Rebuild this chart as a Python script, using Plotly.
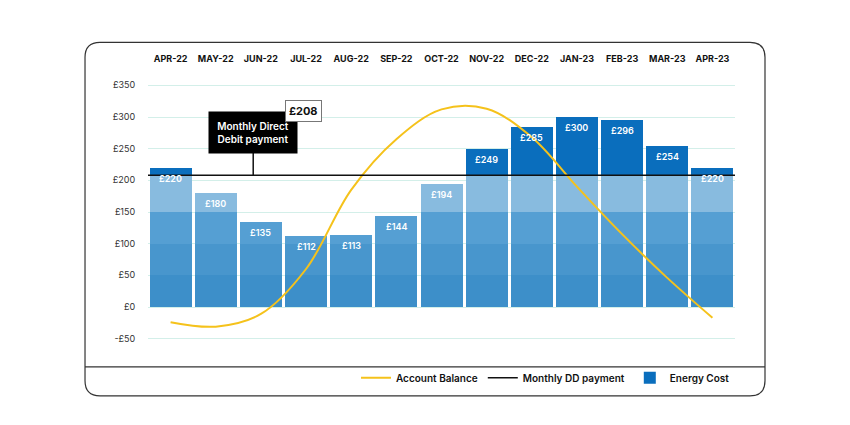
import numpy as np
import plotly.graph_objects as go

months = ["APR-22", "MAY-22", "JUN-22", "JUL-22", "AUG-22", "SEP-22", "OCT-22",
          "NOV-22", "DEC-22", "JAN-23", "FEB-23", "MAR-23", "APR-23"]
energy_cost = [220, 180, 135, 112, 113, 144, 194, 249, 285, 300, 296, 254, 220]
account_balance = [-24, -31, -11, 60, 185, 265, 312, 313, 268, 190, 115, 46, -17]
dd_payment = 208
y_ticks = [-50, 0, 50, 100, 150, 200, 250, 300, 350]

x = np.arange(len(months))
cost = np.array(energy_cost, dtype=float)

# split each bar into bands: 0-50, 50-100, 100-150, 150-DD, above DD
bands = [
    (np.clip(cost, 0, 50), "#3d8fc9"),
    (np.clip(cost - 50, 0, 50), "#4896cd"),
    (np.clip(cost - 100, 0, 50), "#559fd3"),
    (np.clip(np.minimum(cost, dd_payment) - 150, 0, None), "#88bbdf"),
    (np.clip(cost - dd_payment, 0, None), "#0a6ebd"),
]

fig = go.Figure()
for i, (seg, col) in enumerate(bands):
    last = i == len(bands) - 1
    fig.add_trace(go.Bar(
        x=x, y=seg, marker=dict(color=col, line=dict(width=0)),
        name="Energy Cost", showlegend=last, legendrank=3,
        hoverinfo="skip",
    ))

fig.add_trace(go.Scatter(
    x=x, y=account_balance, mode="lines", name="Account Balance",
    line=dict(color="#f5c21b", width=2, shape="spline", smoothing=1.0),
    legendrank=1,
))

fig.add_hline(y=dd_payment, line=dict(color="#111111", width=1.5),
              showlegend=True, name="Monthly DD payment", legendrank=2)

# value labels inside the top of each bar
for xi, v in zip(x, energy_cost):
    fig.add_annotation(x=xi, y=v, text="£%d" % v, showarrow=False,
                       yanchor="top", yshift=-3,
                       font=dict(color="white", size=9, weight=600))

# direct debit callout
fig.add_shape(type="line", x0=1.83, x1=1.83, y0=dd_payment, y1=243,
              line=dict(color="#111111", width=1.5))
fig.add_annotation(x=1.83, y=276, text="Monthly Direct<br>Debit payment",
                   showarrow=False, bgcolor="#000000", width=86, height=39,
                   font=dict(color="white", size=10, weight=600), align="center")
fig.add_annotation(x=2.94, y=309, text="£%d" % dd_payment, showarrow=False,
                   bgcolor="white", bordercolor="#777777", borderwidth=1,
                   borderpad=3, font=dict(color="#111111", size=11, weight=700))

# outer rounded frame and legend divider (paper coords)
x0, x1, y0, y1 = -0.1073, 1.0511, -0.191, 1.138
rx, ry = 0.0255, 0.0565
frame = ("M {a},{t} L {b},{t} Q {x1},{y1} {x1},{c} L {x1},{d} Q {x1},{y0} {b},{y0} "
         "L {a},{y0} Q {x0},{y0} {x0},{d} L {x0},{c} Q {x0},{y1} {a},{y1} Z").format(
    a=x0 + rx, b=x1 - rx, c=y1 - ry, d=y0 + ry, t=y1, x0=x0, x1=x1, y0=y0, y1=y1)
fig.add_shape(type="path", path=frame, xref="paper", yref="paper",
              line=dict(color="#333333", width=1.2), layer="above")
fig.add_shape(type="line", xref="paper", yref="paper", x0=x0, x1=x1,
              y0=-0.082, y1=-0.082, line=dict(color="#333333", width=1.2))

# page body has an 8px margin, so the figure is 8px smaller than the window
fig.update_layout(
    width=842, height=417,
    barmode="stack", bargap=0.07,
    plot_bgcolor="white", paper_bgcolor="white",
    margin=dict(l=140, r=115, t=71, b=80),
    font=dict(family="Inter, Roboto, sans-serif", color="#222222"),
    legend=dict(orientation="h", x=1.0, xanchor="right", y=-0.123,
                yanchor="middle", font=dict(size=10, weight=600, color="#111111"),
                traceorder="normal", bgcolor="rgba(0,0,0,0)"),
)
fig.update_xaxes(
    range=[-0.5, 12.5], tickvals=list(x), ticktext=months, side="top",
    showgrid=False, zeroline=False, ticks="outside", ticklen=12,
    tickcolor="rgba(0,0,0,0)", tickfont=dict(size=9, weight=700, color="#111111"),
)
fig.update_yaxes(
    range=[-60, 360], tickvals=y_ticks,
    ticktext=[("-£%d" % -t) if t < 0 else "£%d" % t for t in y_ticks],
    showgrid=True, gridcolor="#d3efe9", gridwidth=1, zeroline=False,
    ticks="outside", ticklen=10, tickcolor="rgba(0,0,0,0)",
    tickfont=dict(size=9, color="#333333"),
)

fig.write_html("out.html")
